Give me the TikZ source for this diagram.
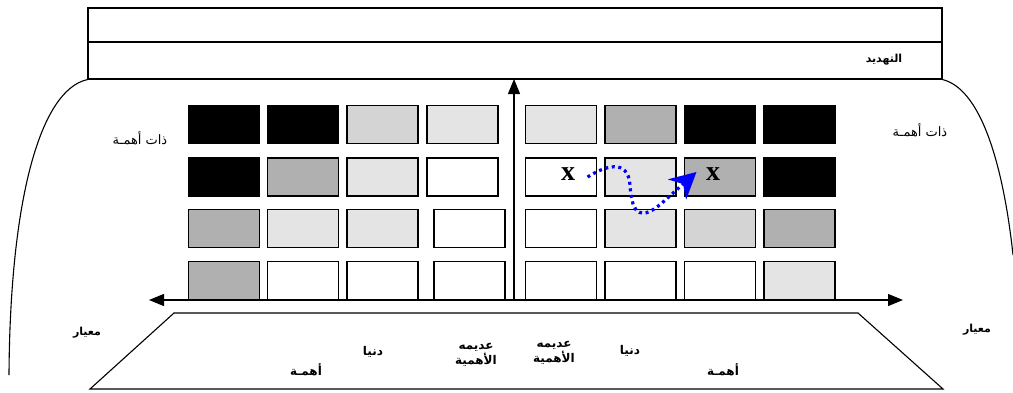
\documentclass[tikz,border=0pt]{standalone}
\usepackage{fontspec}
\setmainfont{Liberation Serif}
\newfontfamily\ar[Script=Arabic]{DejaVu Sans}
\TeXXeTstate=1
\usetikzlibrary{arrows.meta,calc}
\definecolor{gA}{HTML}{B0B0B0}
\definecolor{gB}{HTML}{D4D4D4}
\definecolor{gC}{HTML}{E4E4E4}
\definecolor{blueA}{HTML}{0000FF}
\begin{document}
\begin{tikzpicture}[x=1pt,y=-1pt,line width=1.1pt,
  cell/.style={draw=black,line width=1.3pt,minimum width=71pt,minimum height=38pt,inner sep=0pt},
  band/.style={draw=black,line width=1.1pt,minimum width=854pt,inner sep=0pt},
  lbl/.style={font=\ar\fontsize{13}{14}\selectfont,inner sep=0pt},
  blbl/.style={font=\ar\bfseries\fontsize{12}{12.5}\selectfont,inner sep=0pt,align=center},
  slbl/.style={font=\ar\bfseries\fontsize{11}{12}\selectfont,inner sep=0pt},
  axisarrow/.style={line width=1.2pt,-{Triangle[length=15pt,width=12pt]}},
  bluedot/.style={blueA,line width=3.2pt,dash pattern=on 3pt off 3.6pt,-{Stealth[length=26pt,width=27pt,inset=8pt]}}]
\useasboundingbox (0,0) rectangle (1013,392);
% top bands
\node[band,minimum height=34pt] (hdr) at (515,25) {};
\node[band,minimum height=37pt] (thr) at (515,60.5) {};
\node[slbl] (thrlbl) at (884,60) {\beginR التهديد\endR};
% outer curves
\draw (thr.south west) .. controls (40,90) and (10,200) .. (9,375);
\draw (thr.south east) .. controls (985,90) and (1005,180) .. (1013,255);
% grid cells
\foreach \nm/\x/\y/\c in {
  a1/224/124.5/black, a2/303/124.5/black, a3/382.5/124.5/gB, a4/462.5/124.5/gC,
  a5/561/124.5/gC, a6/640.5/124.5/gA, a7/720/124.5/black, a8/799.5/124.5/black,
  b1/224/177/black, b2/303/177/gA, b3/382.5/177/gC, b4/462.5/177/white,
  b5/561/177/white, b6/640.5/177/gC, b7/720/177/gA, b8/799.5/177/black,
  c1/224/228.5/gA, c2/303/228.5/gC, c3/382.5/228.5/gC, c4/469.5/228.5/white,
  c5/561/228.5/white, c6/640.5/228.5/gC, c7/720/228.5/gB, c8/799.5/228.5/gA,
  d1/224/280.5/gA, d2/303/280.5/white, d3/382.5/280.5/white, d4/469.5/280.5/white,
  d5/561/280.5/white, d6/640.5/280.5/white, d7/720/280.5/white, d8/799.5/280.5/gC}
  {\node[cell,fill=\c] (\nm) at (\x,\y) {};}
% axes
\coordinate (o) at (514,300);
\coordinate (vtop) at (514,79);
\coordinate (hl) at (149,300);
\coordinate (hr) at (903,300);
\draw[axisarrow] (o) -- (vtop);
\draw[line width=1.2pt,{Triangle[length=15pt,width=12pt]}-{Triangle[length=15pt,width=12pt]}] (hl) -- (hr);
% x marks
\node[font=\bfseries\fontsize{28}{28}\selectfont,inner sep=0pt] (xa) at (568,174) {x};
\node[font=\bfseries\fontsize{28}{28}\selectfont,inner sep=0pt] (xb) at (713,174) {x};
\draw[bluedot] ($(xa.east)+(12,3)$) .. controls (605,166) and (628,158) .. (630,185)
  .. controls (632,217) and (642,220) .. (662,203) -- ($(xb.west)+(-9,-2)$);
% side labels
\node[lbl] (imL) at (140,138) {\beginR ذات أهمـة\endR};
\node[lbl] (imR) at (920,130) {\beginR ذات أهمـة\endR};
% bottom trapezoid
\draw (174,313) -- (858,313) -- (943,389) -- (90,389) -- cycle;
\node[slbl] (mL) at (87,333) {\beginR معيار\endR};
\node[slbl] (mR) at (977,330) {\beginR معيار\endR};
\node[blbl] (l1) at (306,370) {\beginR أهمـة\endR};
\node[blbl] (l2) at (373,352) {\beginR دنيا\endR};
\node[blbl] (l3) at (476,355) {\beginR عديمه\endR\\\beginR الأهمية\endR};
\node[blbl] (r3) at (554,353) {\beginR عديمه\endR\\\beginR الأهمية\endR};
\node[blbl] (r2) at (630,351) {\beginR دنيا\endR};
\node[blbl] (r1) at (723,370) {\beginR أهمـة\endR};
\end{tikzpicture}
\end{document}
